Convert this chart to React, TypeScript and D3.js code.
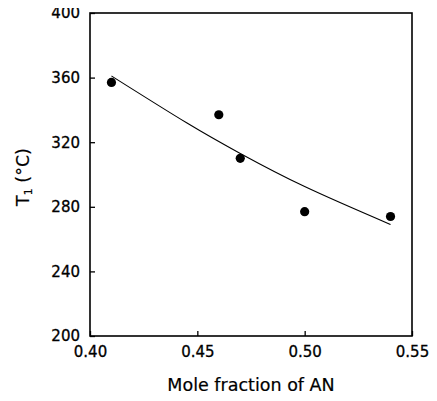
import React, { useEffect, useRef } from 'react';
import * as d3 from 'd3';

// measured points
const moleFraction = [0.41, 0.46, 0.47, 0.5, 0.54];
const t1Values = [357, 337, 310, 277, 274];

// fitted curve
const fitX = [0.41, 0.445, 0.47, 0.5, 0.54];
const fitY = [361, 332, 313, 292.5, 269];

const xTicks = [0.4, 0.45, 0.5, 0.55];
const yTicks = [200, 240, 280, 320, 360, 400];

const W = 437;
const H = 401;

export default function App() {
  const svgRef = useRef<SVGSVGElement>(null);

  useEffect(() => {
    if (!svgRef.current) return;
    const svg = d3.select(svgRef.current);
    svg.selectAll('*').remove();

    const margin = { top: 13, right: 25, bottom: 65, left: 90 };
    const width = W - margin.left - margin.right;
    const height = H - margin.top - margin.bottom;

    const g = svg.append('g').attr('transform', `translate(${margin.left},${margin.top})`);

    const x = d3.scaleLinear().domain([0.4, 0.55]).range([0, width]);
    const y = d3.scaleLinear().domain([200, 400]).range([height, 0]);

    const font = "'DejaVu Sans', sans-serif";

    // frame
    g.append('rect')
      .attr('width', width)
      .attr('height', height)
      .attr('fill', 'none')
      .attr('stroke', '#000')
      .attr('stroke-width', 1.6);

    // x axis (ticks point inward)
    const xAxis = g.append('g')
      .attr('transform', `translate(0,${height})`)
      .call(d3.axisBottom(x).tickValues(xTicks).tickSize(-5).tickPadding(10).tickFormat(d3.format('.2f')));
    xAxis.select('.domain').remove();
    xAxis.selectAll('line').attr('stroke-width', 1.3);
    xAxis.selectAll('text')
      .attr('font-family', font)
      .attr('font-size', 15)
      .attr('stroke', '#000')
      .attr('stroke-width', 0.3)
      .attr('fill', '#000');

    const yAxis = g.append('g')
      .call(d3.axisLeft(y).tickValues(yTicks).tickSize(-5).tickPadding(10));
    yAxis.select('.domain').remove();
    yAxis.selectAll('line').attr('stroke-width', 1.3);
    yAxis.selectAll('text')
      .attr('font-family', font)
      .attr('font-size', 15)
      .attr('stroke', '#000')
      .attr('stroke-width', 0.3)
      .attr('fill', '#000');

    // axis titles
    g.append('text')
      .attr('x', width / 2)
      .attr('y', height + 55)
      .attr('text-anchor', 'middle')
      .attr('font-family', font)
      .attr('font-size', 17.5)
      .attr('stroke', '#000')
      .attr('stroke-width', 0.2)
      .text('Mole fraction of AN');

    const yl = svg.append('text')
      .attr('transform', `translate(29,${margin.top + 164}) rotate(-90)`)
      .attr('text-anchor', 'middle')
      .attr('font-family', font)
      .attr('font-size', 17.5)
      .attr('stroke', '#000')
      .attr('stroke-width', 0.2);
    yl.append('tspan').text('T');
    yl.append('tspan').attr('font-size', 11).attr('dy', 3).text('1');
    yl.append('tspan').attr('dy', -3).text(' (°C)');

    // fit curve
    const line = d3.line<number>()
      .x((d, i) => x(fitX[i]))
      .y(d => y(d))
      .curve(d3.curveNatural);
    g.append('path')
      .datum(fitY)
      .attr('d', line)
      .attr('fill', 'none')
      .attr('stroke', '#000')
      .attr('stroke-width', 1.1);

    // points
    g.selectAll('.pt')
      .data(t1Values)
      .enter()
      .append('circle')
      .attr('class', 'pt')
      .attr('cx', (d, i) => x(moleFraction[i]))
      .attr('cy', d => y(d))
      .attr('r', 4.6)
      .attr('fill', '#000');
  }, []);

  return (
    <div style={{ margin: -8, background: '#fff' }}>
      <svg ref={svgRef} width={W} height={H} style={{ display: 'block' }} />
    </div>
  );
}
